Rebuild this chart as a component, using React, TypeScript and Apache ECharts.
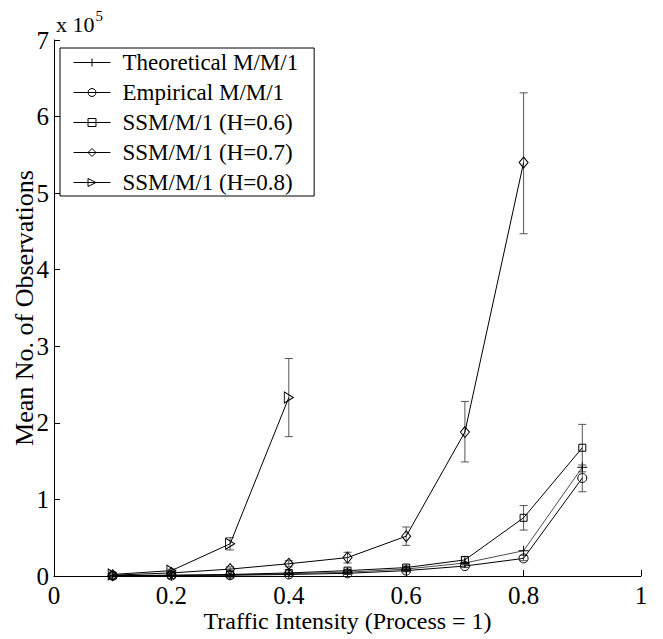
import React, { useEffect, useRef } from "react";
import * as echarts from "echarts";

const FONT = "Liberation Serif";

const xs = [0.1, 0.2, 0.3, 0.4, 0.5, 0.6, 0.7, 0.8, 0.9];

const theoretical = [0.004, 0.008, 0.015, 0.03, 0.05, 0.09, 0.17, 0.33, 1.42];
const empirical = [0.003, 0.006, 0.01, 0.02, 0.035, 0.07, 0.13, 0.23, 1.28];
const empiricalLo = [0.002, 0.004, 0.007, 0.015, 0.025, 0.055, 0.11, 0.2, 1.1];
const empiricalHi = [0.004, 0.008, 0.013, 0.025, 0.045, 0.085, 0.15, 0.27, 1.45];

const h06 = [0.005, 0.01, 0.02, 0.04, 0.07, 0.11, 0.21, 0.76, 1.675];
const h06Lo = [0.003, 0.007, 0.014, 0.03, 0.055, 0.09, 0.17, 0.6, 1.36];
const h06Hi = [0.007, 0.013, 0.026, 0.05, 0.085, 0.13, 0.25, 0.92, 1.98];

const xs07 = [0.1, 0.2, 0.3, 0.4, 0.5, 0.6, 0.7, 0.8];
const h07 = [0.01, 0.04, 0.09, 0.16, 0.24, 0.52, 1.88, 5.4];
const h07Lo = [0.005, 0.03, 0.06, 0.12, 0.17, 0.4, 1.49, 4.47];
const h07Hi = [0.015, 0.05, 0.12, 0.2, 0.31, 0.64, 2.28, 6.31];

const xs08 = [0.1, 0.2, 0.3, 0.4];
const h08 = [0.02, 0.07, 0.42, 2.33];
const h08Lo = [0.01, 0.05, 0.34, 1.82];
const h08Hi = [0.03, 0.09, 0.5, 2.84];

const names = [
  "Theoretical M/M/1",
  "Empirical M/M/1",
  "SSM/M/1 (H=0.6)",
  "SSM/M/1 (H=0.7)",
  "SSM/M/1 (H=0.8)",
];

const xTicks = ["0", "0.2", "0.4", "0.6", "0.8", "1"];

function pairs(x: number[], y: number[]) {
  return y.map((v, i) => [x[i], v]);
}
function bars(x: number[], lo: number[], hi: number[]) {
  return lo.map((v, i) => [x[i], v, hi[i]]);
}

function errorSeries(data: number[][]) {
  return {
    type: "custom",
    silent: true,
    z: 1,
    renderItem: (params: any, api: any) => {
      const x = api.value(0);
      const lo = api.coord([x, api.value(1)]);
      const hi = api.coord([x, api.value(2)]);
      const w = 4;
      const style = { stroke: "#555", lineWidth: 1 };
      return {
        type: "group",
        children: [
          { type: "line", shape: { x1: lo[0], y1: lo[1], x2: hi[0], y2: hi[1] }, style },
          { type: "line", shape: { x1: lo[0] - w, y1: lo[1], x2: lo[0] + w, y2: lo[1] }, style },
          { type: "line", shape: { x1: hi[0] - w, y1: hi[1], x2: hi[0] + w, y2: hi[1] }, style },
        ],
      };
    },
    encode: { x: 0, y: [1, 2] },
    data,
  };
}

function lineSeries(name: string, data: number[][], symbol: string, size: any, width = 1) {
  return {
    name,
    type: "line",
    data,
    symbol,
    symbolSize: size,
    z: 3,
    lineStyle: { color: "#000", width },
    itemStyle: { color: "rgba(255,255,255,0)", borderColor: "#000", borderWidth: 1 },
  };
}

export default function App() {
  const ref = useRef<HTMLDivElement>(null);
  useEffect(() => {
    if (!ref.current) return;
    const chart = echarts.init(ref.current, undefined, { renderer: "svg" });
    chart.setOption({
      animation: false,
      backgroundColor: "#fff",
      grid: { left: 54, right: 22, top: 40, bottom: 63, containLabel: false, outerBoundsMode: "none" },
      xAxis: {
        type: "value",
        min: 0,
        max: 1,
        interval: 0.2,
        axisLine: { show: true, lineStyle: { color: "#000", width: 1 } },
        axisTick: { show: true, inside: true, length: 6, lineStyle: { color: "#000" } },
        splitLine: { show: false },
        axisLabel: {
          color: "#000",
          fontFamily: FONT,
          fontSize: 25,
          lineHeight: 18,
          margin: 10,
          formatter: (v: number) => xTicks[Math.round(v / 0.2)],
        },
        name: "Traffic Intensity (Process = 1)",
        nameLocation: "middle",
        nameGap: 35,
        nameMoveOverlap: false,
        nameTextStyle: {
          color: "#000",
          fontFamily: FONT,
          fontSize: 24,
          lineHeight: 20,
          verticalAlign: "top",
        },
      },
      yAxis: {
        type: "value",
        min: 0,
        max: 7,
        interval: 1,
        axisLine: { show: true, lineStyle: { color: "#000", width: 1 } },
        axisTick: { show: true, inside: true, length: 6, lineStyle: { color: "#000" } },
        splitLine: { show: false },
        axisLabel: { color: "#000", fontFamily: FONT, fontSize: 25, margin: 5 },
        name: "Mean No. of Observations",
        nameLocation: "middle",
        nameGap: 17,
        nameMoveOverlap: false,
        nameTextStyle: { color: "#000", fontFamily: FONT, fontSize: 26 },
      },
      legend: {
        data: names,
        orient: "vertical",
        left: 60,
        top: 48,
        itemWidth: 37,
        itemHeight: 10,
        itemGap: 7,
        padding: [3, 16, 2, 13],
        borderColor: "#000",
        borderWidth: 1,
        backgroundColor: "#fff",
        itemStyle: { color: "rgba(255,255,255,0)", borderColor: "#000", borderWidth: 1 },
        lineStyle: { color: "#000", width: 1 },
        textStyle: { color: "#000", fontFamily: FONT, fontSize: 23, padding: [0, 0, 0, 7] },
      },
      graphic: [
        {
          type: "text",
          left: 56,
          top: 8,
          style: {
            text: "{a|x 10}{b|5}",
            rich: {
              a: { fontFamily: FONT, fontSize: 22, fill: "#000", verticalAlign: "bottom" },
              b: { fontFamily: FONT, fontSize: 15, fill: "#000", verticalAlign: "top", padding: [0, 0, 12, 1] },
            },
          },
        },
      ],
      series: [
        lineSeries(names[0], pairs(xs, theoretical), "path://M5,0L5,10M0,5L10,5", 10, 0.7),
        lineSeries(names[1], pairs(xs, empirical), "circle", 9),
        lineSeries(names[2], pairs(xs, h06), "rect", 7),
        lineSeries(names[3], pairs(xs07, h07), "diamond", [9, 11]),
        lineSeries(names[4], pairs(xs08, h08), "path://M0,0L10,5L0,10Z", [9, 11]),
        errorSeries(bars(xs, empiricalLo, empiricalHi)),
        errorSeries(bars(xs, h06Lo, h06Hi)),
        errorSeries(bars(xs07, h07Lo, h07Hi)),
        errorSeries(bars(xs08, h08Lo, h08Hi)),
      ],
    });
    return () => chart.dispose();
  }, []);
  return (
    <div
      ref={ref}
      style={{ position: "absolute", left: 0, top: 0, width: 663, height: 639 }}
    />
  );
}
